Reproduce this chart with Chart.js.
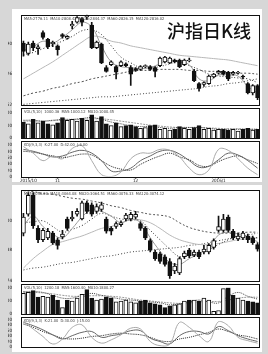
<!DOCTYPE html>
<html>
<head>
<meta charset="utf-8">
<script src="https://cdn.jsdelivr.net/npm/chart.js"></script>
<style>
html, body { margin: 0; padding: 0; background: #d7d7d7; width: 268px; height: 354px; overflow: hidden; }
.panel { position: absolute; background: #fff; }
canvas { position: absolute; }
#title { position: absolute; left: 167px; top: 21px; font: 500 18px "Noto Sans CJK SC"; color: #111; line-height: 1; white-space: nowrap; }
</style>
</head>
<body>
<div class="panel" style="left:12px;top:9px;width:250px;height:173px"></div>
<div class="panel" style="left:12px;top:185px;width:250px;height:167px"></div>
<canvas id="topK" width="254" height="98" style="left:8px;top:11px"></canvas>
<canvas id="topV" width="254" height="34" style="left:8px;top:108px"></canvas>
<canvas id="topO" width="254" height="43" style="left:8px;top:141px"></canvas>
<canvas id="botK" width="254" height="99" style="left:8px;top:186px"></canvas>
<canvas id="botV" width="254" height="34" style="left:8px;top:284px"></canvas>
<canvas id="botO" width="254" height="34" style="left:8px;top:317px"></canvas>
<div id="title">沪指日K线</div>
<script>
// x positions of the sampled average / oscillator points (candle index)
const maX = [0, 2, 4, 6, 8, 10, 12, 14, 16, 18, 20, 22, 24, 26, 28, 30, 32, 34, 36, 38, 40, 42, 44, 46, 48];

// upper chart
const topOpen = [2892, 2870, 2892, 2880, 2914, 2900, 2890, 2886, 2910, 2902, 2928, 2936, 2944, 2948, 2930, 2882, 2890, 2840, 2846, 2842, 2844, 2848, 2840, 2838, 2836, 2842, 2842, 2840, 2844, 2852, 2850, 2856, 2856, 2846, 2854, 2832, 2806, 2804, 2806, 2820, 2828, 2832, 2830, 2826, 2828, 2822, 2806, 2786, 2802];
const topClose = [2874, 2890, 2882, 2884, 2904, 2884, 2894, 2878, 2906, 2906, 2932, 2946, 2936, 2950, 2882, 2894, 2850, 2832, 2852, 2830, 2852, 2844, 2826, 2834, 2842, 2844, 2836, 2832, 2860, 2862, 2860, 2852, 2842, 2856, 2856, 2812, 2796, 2808, 2822, 2826, 2832, 2826, 2816, 2830, 2830, 2820, 2786, 2802, 2776];
const topHigh = [2896, 2894, 2896, 2888, 2918, 2902, 2896, 2888, 2912, 2908, 2938, 2948, 2946, 2952, 2936, 2896, 2892, 2844, 2854, 2844, 2854, 2850, 2844, 2840, 2844, 2846, 2844, 2842, 2862, 2864, 2862, 2858, 2858, 2858, 2860, 2836, 2808, 2810, 2824, 2828, 2834, 2834, 2832, 2832, 2832, 2824, 2808, 2804, 2804];
const topLow = [2864, 2866, 2876, 2868, 2900, 2880, 2884, 2866, 2902, 2900, 2922, 2934, 2928, 2942, 2880, 2880, 2848, 2830, 2844, 2816, 2842, 2842, 2802, 2832, 2834, 2840, 2834, 2820, 2842, 2850, 2848, 2850, 2840, 2844, 2852, 2810, 2790, 2800, 2804, 2818, 2826, 2824, 2812, 2824, 2826, 2816, 2784, 2782, 2772];
const topMa5 = [2876, 2884, 2896, 2892, 2904, 2920, 2936, 2926, 2886, 2852, 2842, 2840, 2838, 2840, 2848, 2856, 2852, 2846, 2816, 2812, 2824, 2824, 2822, 2800, 2786];
const topMa10 = [2866, 2872, 2880, 2888, 2896, 2906, 2918, 2920, 2910, 2886, 2862, 2850, 2840, 2840, 2842, 2848, 2852, 2844, 2836, 2826, 2822, 2820, 2818, 2816, 2808];
const topMa20 = [2816, 2828, 2840, 2852, 2866, 2880, 2894, 2906, 2904, 2896, 2892, 2886, 2882, 2878, 2874, 2870, 2866, 2864, 2862, 2860, 2858, 2856, 2852, 2848, 2844];
const topMa60 = [2780, 2786, 2790, 2796, 2800, 2806, 2810, 2816, 2820, 2824, 2828, 2832, 2834, 2834, 2836, 2836, 2836, 2834, 2834, 2832, 2832, 2830, 2828, 2828, 2826];
const topMa120 = [2762, 2764, 2766, 2768, 2770, 2772, 2774, 2776, 2778, 2778, 2780, 2782, 2784, 2786, 2788, 2790, 2792, 2794, 2796, 2800, 2802, 2806, 2808, 2812, 2816];
const topVol = [1800, 1600, 2100, 1700, 1900, 1600, 1500, 1700, 2300, 2000, 2100, 1900, 2200, 2000, 2600, 1900, 2400, 1600, 1400, 1700, 1300, 1400, 1500, 1300, 1100, 1200, 1400, 1500, 1000, 1100, 900, 1000, 1300, 1100, 1000, 1200, 1400, 1000, 1100, 900, 1000, 1000, 900, 1000, 800, 1000, 1100, 900, 1000];
const topVma5 = [2000, 2000, 1900, 2000, 2100, 2100, 2200, 2300, 2100, 1800, 1600, 1400, 1300, 1300, 1200, 1100, 1200, 1200, 1200, 1100, 1000, 1000, 1000, 1000, 1000];
const topVma10 = [1900, 1900, 1900, 1950, 2000, 2050, 2100, 2150, 2150, 2050, 1900, 1750, 1600, 1450, 1350, 1250, 1200, 1200, 1200, 1150, 1100, 1050, 1050, 1000, 1000];
const topK = [87, 81, 72, 63, 66, 78, 84, 75, 51, 18, 18, 27, 51, 66, 81, 84, 72, 51, 30, 33, 54, 75, 69, 51, 27];
const topD = [81, 78, 72, 66, 60, 66, 72, 69, 51, 33, 24, 21, 39, 54, 66, 75, 63, 54, 36, 33, 48, 60, 66, 54, 42];
const topJ = [96, 75, 51, 66, 57, 90, 99, 51, 6, 0, 15, 57, 75, 75, 87, 84, 63, 27, 6, 21, 87, 84, 57, 27, 6];

// lower chart
const botOpen = [3074, 3114, 3154, 3084, 3060, 3064, 3074, 3060, 3066, 3104, 3104, 3114, 3104, 3138, 3134, 3120, 3124, 3104, 3084, 3088, 3092, 3104, 3104, 3108, 3094, 3084, 3058, 3034, 3030, 3024, 3014, 2994, 2990, 3024, 3038, 3028, 3034, 3034, 3034, 3044, 3080, 3080, 3108, 3078, 3062, 3064, 3068, 3064, 3050];
const botClose = [3108, 3154, 3090, 3060, 3080, 3078, 3054, 3048, 3072, 3084, 3108, 3120, 3138, 3120, 3114, 3130, 3134, 3078, 3078, 3094, 3096, 3112, 3114, 3114, 3084, 3064, 3038, 3020, 3014, 3008, 2984, 3004, 3020, 3032, 3026, 3034, 3024, 3040, 3048, 3058, 3088, 3104, 3080, 3064, 3068, 3074, 3060, 3054, 3040];
const botHigh = [3116, 3160, 3160, 3090, 3084, 3084, 3078, 3064, 3080, 3108, 3120, 3126, 3142, 3142, 3138, 3136, 3140, 3108, 3088, 3098, 3100, 3116, 3118, 3120, 3098, 3088, 3062, 3038, 3034, 3028, 3020, 3010, 3024, 3036, 3042, 3038, 3038, 3048, 3052, 3062, 3110, 3114, 3112, 3082, 3074, 3078, 3072, 3068, 3054];
const botLow = [3068, 3110, 3084, 3054, 3056, 3060, 3050, 3040, 3062, 3080, 3100, 3110, 3102, 3116, 3110, 3116, 3120, 3074, 3070, 3084, 3088, 3100, 3100, 3104, 3080, 3060, 3034, 3016, 3010, 3004, 2978, 2988, 2986, 3020, 3022, 3024, 3020, 3030, 3030, 3040, 3076, 3076, 3076, 3060, 3058, 3060, 3054, 3050, 3036];
const botMa5 = [3090, 3110, 3088, 3072, 3064, 3084, 3108, 3124, 3120, 3110, 3096, 3104, 3096, 3064, 3036, 3012, 3008, 3020, 3030, 3044, 3070, 3076, 3072, 3064, 3056];
const botMa10 = [3096, 3098, 3100, 3088, 3076, 3082, 3090, 3104, 3116, 3110, 3104, 3102, 3100, 3080, 3060, 3040, 3024, 3026, 3028, 3038, 3050, 3060, 3068, 3066, 3064];
const botMa20 = [3000, 3020, 3036, 3050, 3056, 3062, 3068, 3076, 3084, 3088, 3096, 3102, 3102, 3096, 3084, 3070, 3060, 3054, 3050, 3050, 3052, 3056, 3060, 3062, 3064];
const botMa60 = [3164, 3162, 3158, 3156, 3152, 3148, 3146, 3142, 3138, 3132, 3128, 3122, 3118, 3114, 3112, 3108, 3096, 3086, 3080, 3076, 3074, 3074, 3074, 3076, 3076];
const botMa120 = [2996, 3000, 3002, 3006, 3010, 3012, 3016, 3020, 3024, 3026, 3030, 3034, 3036, 3038, 3040, 3042, 3044, 3048, 3050, 3054, 3058, 3062, 3066, 3070, 3074];
const botVol = [2200, 2300, 2500, 1800, 1900, 1800, 2000, 1500, 700, 1500, 1400, 1700, 2100, 2600, 1700, 1500, 1600, 1800, 1700, 1300, 1400, 1500, 1300, 1200, 1400, 1500, 1200, 1100, 1000, 700, 900, 1000, 1100, 1400, 1500, 1500, 1400, 1700, 1500, 300, 400, 2700, 2800, 2000, 1700, 1500, 1400, 1300, 1200];
const botVma5 = [2400, 2400, 2300, 2000, 1700, 1700, 2000, 2200, 2000, 1800, 1600, 1500, 1400, 1300, 1200, 1000, 1100, 1300, 1500, 1300, 1200, 1900, 2300, 1900, 1600];
const botVma10 = [2300, 2300, 2250, 2150, 2000, 1900, 1900, 1950, 1950, 1900, 1800, 1650, 1500, 1400, 1300, 1200, 1150, 1200, 1300, 1350, 1350, 1500, 1700, 1800, 1800];
const botK = [90, 78, 63, 45, 30, 42, 54, 57, 36, 42, 48, 60, 60, 33, 21, 12, 42, 57, 57, 48, 75, 60, 42, 30, 21];
const botD = [84, 72, 57, 45, 33, 30, 33, 39, 42, 48, 51, 48, 45, 36, 24, 21, 30, 36, 45, 54, 66, 57, 45, 39, 30];
const botJ = [93, 66, 39, 12, 30, 72, 81, 36, 15, 27, 45, 69, 66, 21, 6, 12, 90, 72, 42, 21, 93, 78, 36, 24, 15];

// ticks
const topPriceTicks = [2762, 2826, 2890];
const botPriceTicks = [2974, 3038, 3100];
const volTicks = [0, 1400, 2800];
const oscTicks = [0, 20, 40, 60, 80, 100];
const dateTicks = [1, 7, 23, 40];
const dateLabels = ["2015/10", "11", "12", "2016/1"];

const tiny = { family: "'Liberation Sans Narrow', 'DejaVu Sans Condensed'", size: 4.5 };

// frame round the plot plus the small header line
const framePlugin = {
  id: "frame",
  afterDatasetsDraw(chart, args, o) {
    const a = chart.chartArea;
    const ctx = chart.ctx;
    const top = o.fromTop ? 0 : Math.round(a.top);
    const l = Math.round(a.left), r = Math.round(a.right), b = Math.round(a.bottom);
    ctx.save();
    ctx.strokeStyle = "#111";
    ctx.lineWidth = 1;
    ctx.strokeRect(l + 0.5, top + 0.5, r - l - 1, b - top);
    if (o.header) {
      ctx.font = "4px 'Liberation Sans Narrow', 'DejaVu Sans Condensed'";
      ctx.fillStyle = "#444";
      ctx.textBaseline = "top";
      ctx.fillText(o.header, l + 3, top + 2);
    }
    ctx.restore();
  }
};

function fills(o, c) {
  return o.map((v, i) => (c[i] >= v ? "#fff" : "#111"));
}

function yAxis(min, max, ticks) {
  return {
    min: min,
    max: max,
    afterBuildTicks: (ax) => { ax.ticks = ticks.map((v) => ({ value: v })); },
    afterFit: (ax) => { ax.width = 13; },
    ticks: { font: tiny, color: "#111", padding: 1, autoSkip: false, callback: (v) => String(v) },
    grid: { display: false },
    border: { display: false }
  };
}

function xAxis() {
  return { type: "linear", min: -0.5, max: 48.5, offset: false, display: false };
}

function line(vals, color, dash) {
  return {
    type: "line",
    data: maX.map((x, k) => ({ x: x, y: vals[k] })),
    borderColor: color,
    borderWidth: 1,
    borderDash: dash,
    pointRadius: 0,
    tension: 0.4,
    order: 3
  };
}

function options(scales, padding, frame) {
  return {
    responsive: false,
    animation: false,
    devicePixelRatio: 1,
    layout: { padding: Object.assign({ left: 0, right: 2, top: 0, bottom: 0 }, padding) },
    plugins: { legend: { display: false }, tooltip: { enabled: false }, frame: frame },
    scales: scales
  };
}

function candleChart(id, o, c, h, l, lines, min, max, ticks, header) {
  const idx = o.map((v, i) => i);
  new Chart(document.getElementById(id), {
    type: "bar",
    data: {
      datasets: [
        { data: idx.map((i) => ({ x: i, y: [l[i], h[i]] })), backgroundColor: "#111", barThickness: 1, grouped: false, order: 2 },
        { data: idx.map((i) => ({ x: i, y: [o[i], c[i]] })), backgroundColor: fills(o, c), borderColor: "#111", borderWidth: 1, borderSkipped: false, barThickness: 4, grouped: false, order: 1 }
      ].concat(lines)
    },
    options: options({ x: xAxis(), y: yAxis(min, max, ticks) }, { top: 1, bottom: 1 }, { fromTop: false, header: header }),
    plugins: [framePlugin]
  });
}

function volChart(id, vol, o, c, ma5, ma10, padTop, header) {
  const idx = vol.map((v, i) => i);
  new Chart(document.getElementById(id), {
    type: "bar",
    data: {
      datasets: [
        { data: idx.map((i) => ({ x: i, y: vol[i] })), backgroundColor: fills(o, c), borderColor: "#111", borderWidth: 1, barThickness: 4, grouped: false, order: 1 },
        line(ma5, "#444", [1, 1]),
        line(ma10, "#999", [2, 1])
      ]
    },
    options: options({ x: xAxis(), y: yAxis(0, 2800, volTicks) }, { top: padTop, bottom: 1 }, { fromTop: true, header: header }),
    plugins: [framePlugin]
  });
}

function oscChart(id, k, d, j, max, withDates, header) {
  const x = xAxis();
  if (withDates) {
    x.display = true;
    x.afterBuildTicks = (ax) => { ax.ticks = dateTicks.map((v) => ({ value: v })); };
    x.ticks = { font: tiny, color: "#111", padding: 0, maxRotation: 0, autoSkip: false, callback: (v) => dateLabels[dateTicks.indexOf(v)] };
    x.grid = { display: true, drawOnChartArea: false, tickLength: 2, color: "#111" };
    x.border = { display: false };
  }
  new Chart(document.getElementById(id), {
    type: "line",
    data: {
      datasets: [
        line(j, "#aaa", []),
        line(k, "#666", []),
        line(d, "#222", [1, 1])
      ]
    },
    options: options({ x: x, y: yAxis(0, max, oscTicks) }, { top: withDates ? 2 : 1, bottom: withDates ? 0 : 1 }, { fromTop: true, header: header }),
    plugins: [framePlugin]
  });
}

candleChart("topK", topOpen, topClose, topHigh, topLow, [
  line(topMa5, "#9a9a9a", []),
  line(topMa10, "#333", [1, 2]),
  line(topMa20, "#b8b8b8", []),
  line(topMa60, "#555", [2, 2]),
  line(topMa120, "#444", [1, 2])
], 2760, 2952, topPriceTicks, "MA5:2776.11  MA10:2808.42  MA20:2844.37  MA60:2826.15  MA120:2816.02");

volChart("topV", topVol, topOpen, topClose, topVma5, topVma10, 5, "VOL(5,10)  1000.36  MA5:1000.12  MA10:1000.45");
oscChart("topO", topK, topD, topJ, 102, true, "KDJ(9,3,3)  K:27.00  D:42.00  J:6.00");

candleChart("botK", botOpen, botClose, botHigh, botLow, [
  line(botMa5, "#9a9a9a", []),
  line(botMa10, "#333", [1, 2]),
  line(botMa20, "#b8b8b8", []),
  line(botMa60, "#555", [2, 2]),
  line(botMa120, "#444", [1, 2])
], 2972, 3166, botPriceTicks, "MA5:3056.20  MA10:3064.08  MA20:3064.51  MA60:3076.33  MA120:3074.12");

volChart("botV", botVol, botOpen, botClose, botVma5, botVma10, 3, "VOL(5,10)  1200.18  MA5:1600.40  MA10:1800.27");
oscChart("botO", botK, botD, botJ, 96, false, "KDJ(9,3,3)  K:21.00  D:30.00  J:15.00");
</script>
</body>
</html>
